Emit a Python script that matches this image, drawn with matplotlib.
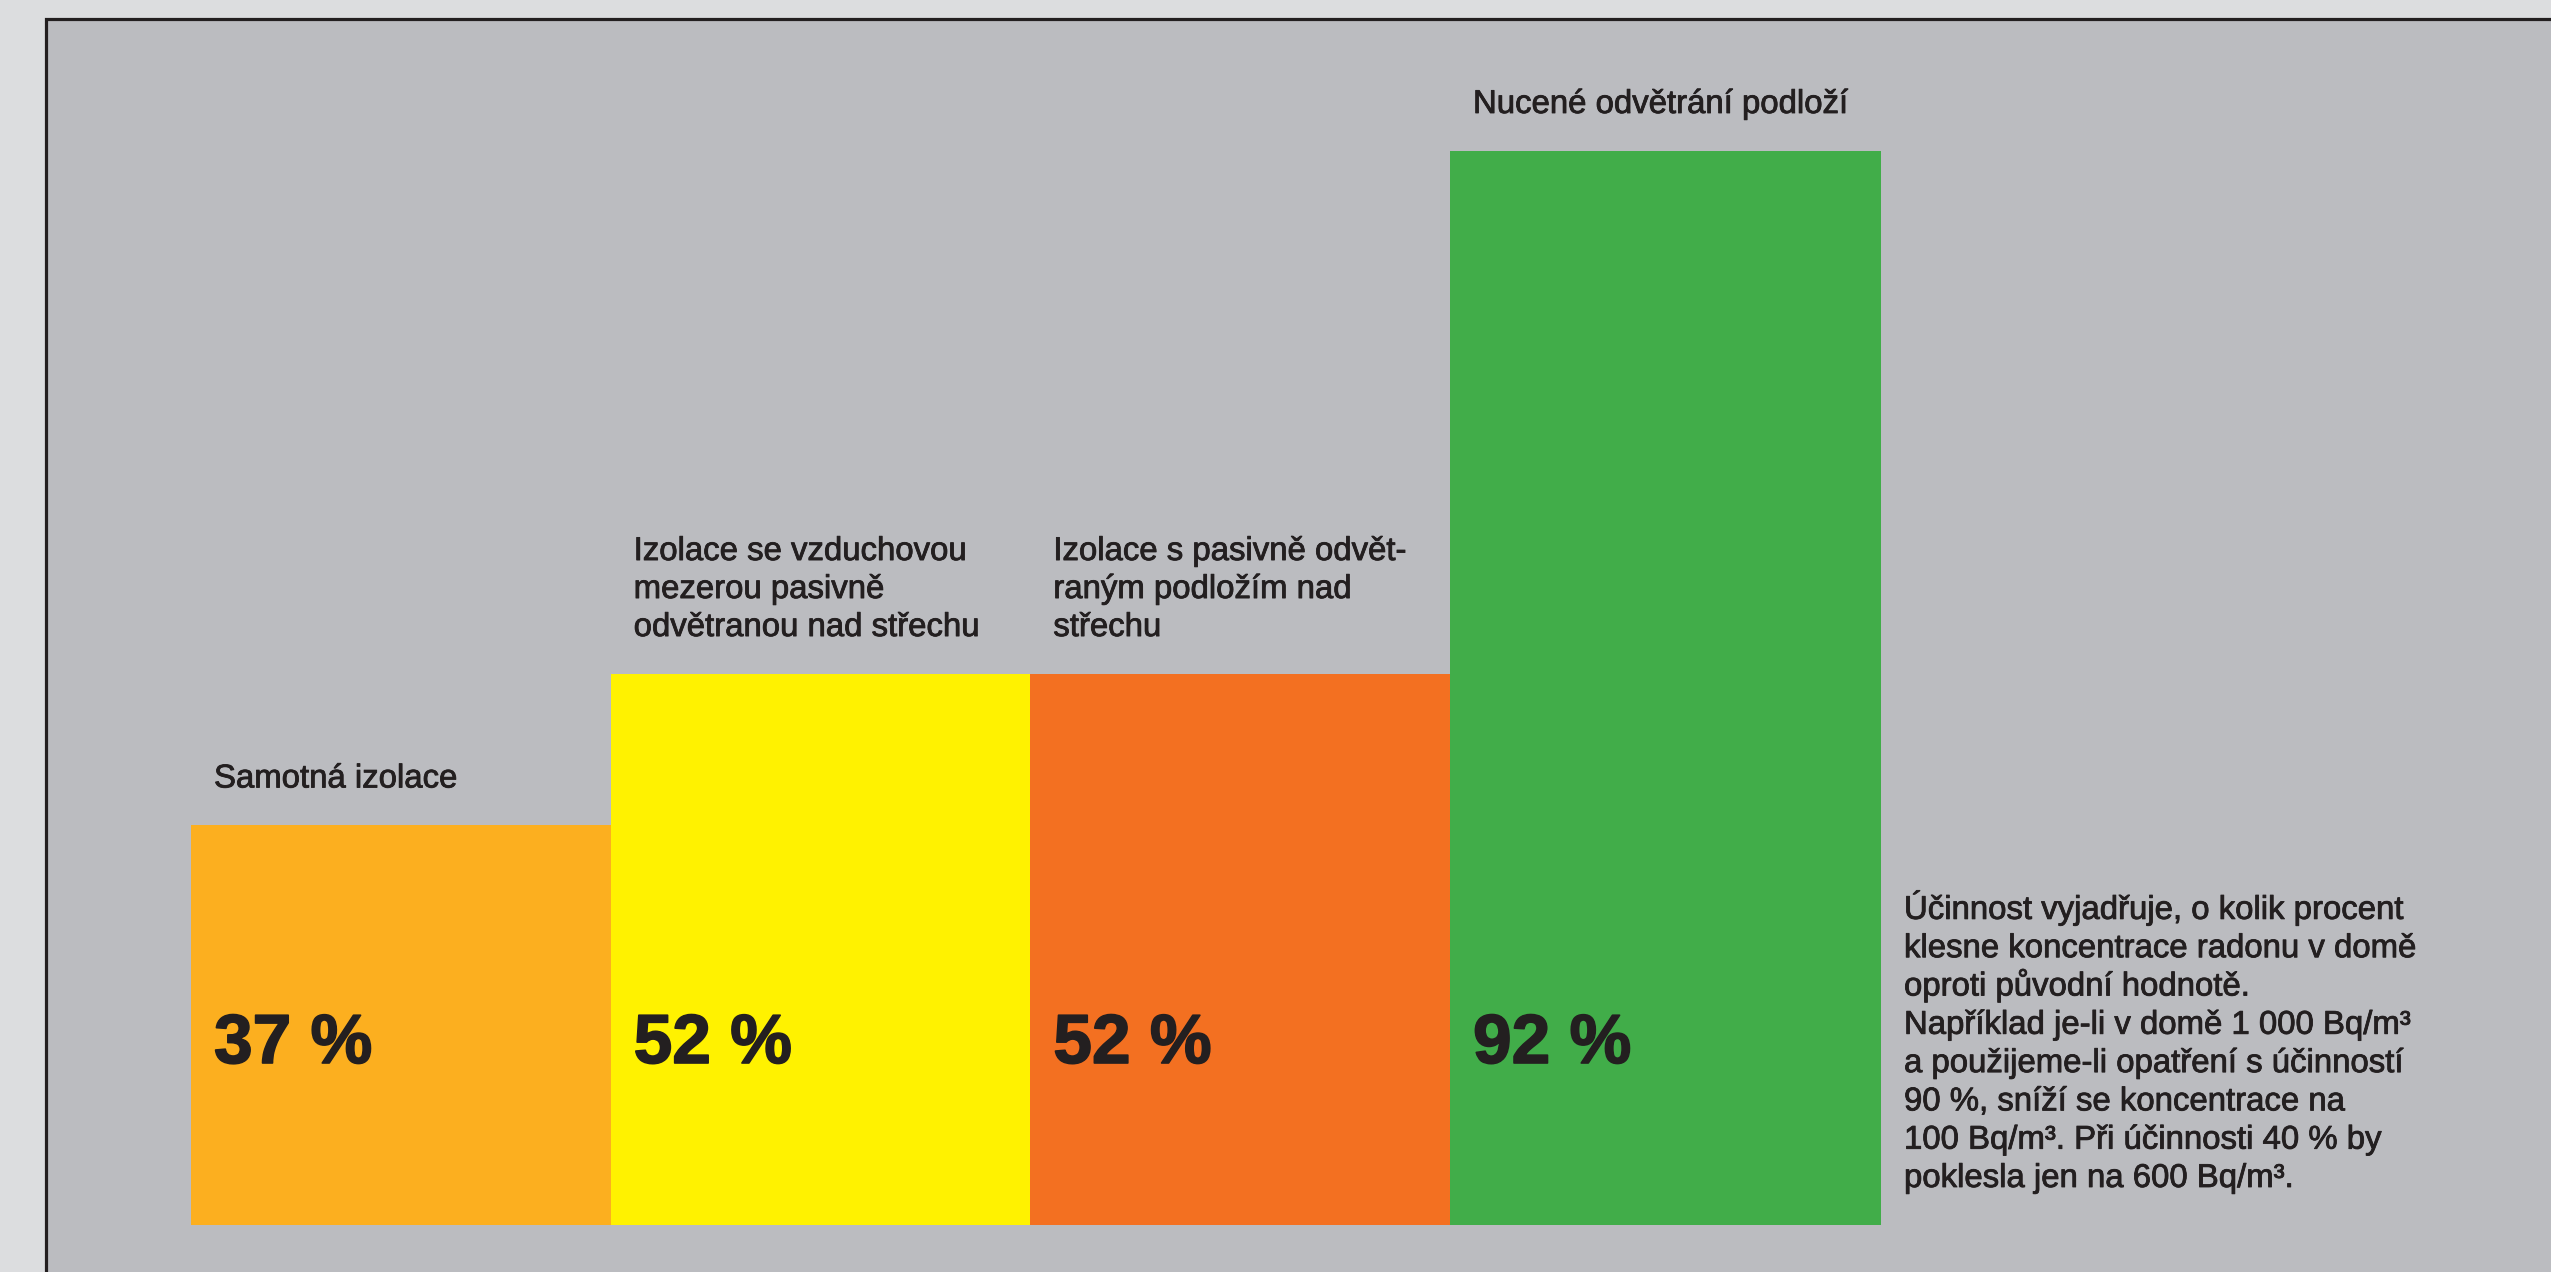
import matplotlib
matplotlib.use("Agg")
import matplotlib.pyplot as plt
from matplotlib.patches import Rectangle
import matplotlib.patheffects as pe
import numpy as np

# ---- data ----
categories = [
    "Samotná izolace",
    "Izolace se vzduchovou\nmezerou pasivně\nodvětranou nad střechu",
    "Izolace s pasivně odvět-\nraným podložím nad\nstřechu",
    "Nucené odvětrání podloží",
]
efficiency_pct = [37, 52, 52, 92]            # printed values
drawn_heights = [37.2, 51.3, 51.3, 100.0]   # bar heights as drawn (chart not to scale)
value_labels = ["37 %", "52 %", "52 %", "92 %"]
note_lines = [
    "Účinnost vyjadřuje, o kolik procent",
    "klesne koncentrace radonu v domě",
    "oproti původní hodnotě.",
    "Například je-li v domě 1 000 Bq/m³",
    "a použijeme-li opatření s účinností",
    "90 %, sníží se koncentrace na",
    "100 Bq/m³. Při účinnosti 40 % by",
    "poklesla jen na 600 Bq/m³.",
]

# ---- styling ----
bar_colors = ["#FCAF1F", "#FFF200", "#F37021", "#41AD49"]
bar_widths = np.array([1.0, 1.0, 1.0, 1.027])
text_color = "#231F20"
fam = ["Liberation Sans", "DejaVu Sans"]
plt.rcParams["font.family"] = fam

thin_fx = [pe.withStroke(linewidth=0.6, foreground=text_color)]
bold_fx = [pe.withStroke(linewidth=1.2, foreground=text_color)]

W, H = 2551, 1272
fig = plt.figure(figsize=(W / 100, H / 100), dpi=100)
fig.patch.set_facecolor("#DCDDDF")

# background axes holding the panel with dark border (cut off at right and bottom)
bg = fig.add_axes([0, 0, 1, 1], zorder=0)
bg.set_xlim(0, 1)
bg.set_ylim(0, 1)
bg.axis("off")
bg.add_patch(Rectangle((45.5 / W, -0.05), 1.2, (H - 18.5) / H + 0.05,
                       facecolor="#BBBCC0", edgecolor=text_color,
                       linewidth=2.3, clip_on=False))

# axes for bars
left_px, right_px, bottom_px, top_px = 191, 1881, 1225, 151
ax = fig.add_axes([left_px / W, (H - bottom_px) / H,
                   (right_px - left_px) / W, (bottom_px - top_px) / H], zorder=1)
ax.set_facecolor("none")
ax.axis("off")

lefts = np.concatenate([[0], np.cumsum(bar_widths)[:-1]])
ax.bar(lefts, drawn_heights, width=bar_widths, align="edge",
       color=bar_colors, linewidth=0)
ax.set_xlim(0, bar_widths.sum())
ax.set_ylim(0, max(drawn_heights))

label_size = 23.7
big_size = 50
line_px = 38

for x0, h, cat, vlab in zip(lefts, drawn_heights, categories, value_labels):
    lines = cat.split("\n")
    n = len(lines)
    for j, line in enumerate(lines):
        ax.annotate(line, xy=(x0, h), xycoords="data",
                    xytext=(23, 38 + (n - 1 - j) * line_px),
                    textcoords="offset pixels", ha="left", va="baseline",
                    fontsize=label_size, color=text_color,
                    path_effects=thin_fx, annotation_clip=False)
    ax.annotate(vlab, xy=(x0, 0), xycoords="data", xytext=(23, 162),
                textcoords="offset pixels", ha="left", va="baseline",
                fontsize=big_size, fontweight="bold", color=text_color,
                path_effects=bold_fx, annotation_clip=False)

n = len(note_lines)
for j, line in enumerate(note_lines):
    ax.annotate(line, xy=(bar_widths.sum(), 0), xycoords="data",
                xytext=(23, 38 + (n - 1 - j) * 38.3),
                textcoords="offset pixels", ha="left", va="baseline",
                fontsize=label_size, color=text_color,
                path_effects=thin_fx, annotation_clip=False)

fig.savefig("out.png", dpi=100, facecolor=fig.get_facecolor())
